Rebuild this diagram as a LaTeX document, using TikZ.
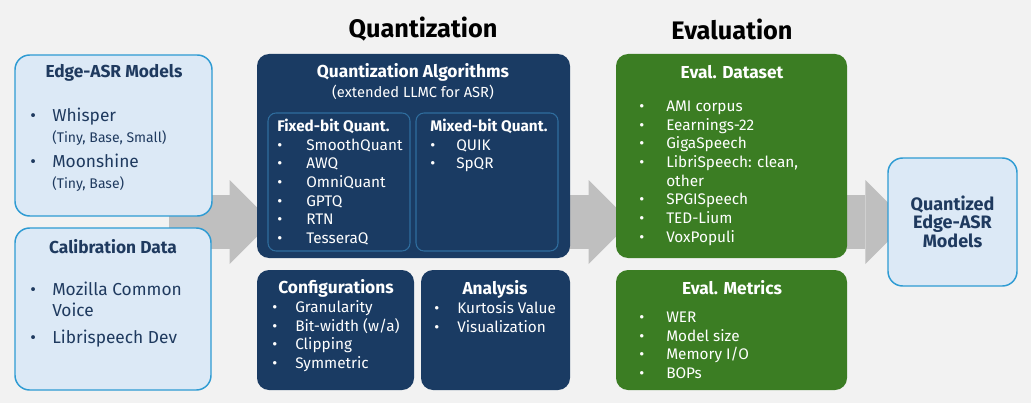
\documentclass[tikz,border=0pt]{standalone}
\usepackage{fontspec}
\setmainfont{Fira Sans}
\usetikzlibrary{arrows.meta,backgrounds,calc}
\definecolor{pagebg}{HTML}{F2F2F2}
\definecolor{navy}{HTML}{1A3B63}
\definecolor{subline}{HTML}{2F6D9E}
\definecolor{evalgreen}{HTML}{3B7D23}
\definecolor{lightfill}{HTML}{DCE9F6}
\definecolor{lightline}{HTML}{2E9BD3}
\definecolor{darktext}{HTML}{1F3A5F}
\definecolor{flowgray}{HTML}{BFBFBF}
\newcommand{\itembullet}[1][16.5pt]{\makebox[#1][l]{•}}
\newcommand{\liststack}[1]{\begin{tabular}[t]{@{}l@{}}#1\end{tabular}}

\begin{document}
\begin{tikzpicture}[x=0.75pt,y=-0.75pt,
  lightbox/.style={draw=lightline, line width=1.1pt, fill=lightfill, rounded corners=11pt},
  navybox/.style={fill=navy, rounded corners=9pt},
  subbox/.style={draw=subline, line width=0.8pt, rounded corners=6pt},
  greenbox/.style={fill=evalgreen, rounded corners=9pt},
  headline/.style={font=\bfseries\fontsize{19}{22}\selectfont},
  boxtitle/.style={font=\bfseries\fontsize{13}{15}\selectfont},
  itemlist/.style={anchor=base west, inner sep=0pt, font=\fontsize{11.5}{14}\selectfont},
  flow/.style={draw=flowgray, line width=40.5pt, -{Triangle[length=31.5pt, width=63pt, line width=0pt]}}]
\useasboundingbox (0,0) rectangle (1031,403);
\coordinate (axis) at (0,222);

\node[headline] (quanthead) at (423,29) {Quantization};
\node[headline] (evalhead) at (732,29) {Evaluation};

\node[lightbox, minimum width=147.75pt, minimum height=120.75pt] (edge) at (113.5,135.5) {};
\node[boxtitle, text=darktext] (edgetitle) at (114,73) {Edge-ASR Models};
\node[itemlist, text=darktext, font=\fontsize{13}{16}\selectfont] (edgelist) at (30,121) {\liststack{\itembullet Whisper\\
  \hspace*{16.5pt}{\fontsize{10.5}{16}\selectfont (Tiny, Base, Small)}\\[3pt]
  \itembullet Moonshine\\
  \hspace*{16.5pt}{\fontsize{10.5}{16}\selectfont (Tiny, Base)}}};

\node[lightbox, minimum width=147pt, minimum height=121.5pt] (calib) at (113,309) {};
\node[boxtitle, text=darktext] (calibtitle) at (113,247) {Calibration Data};
\node[itemlist, text=darktext, font=\fontsize{13}{16}\selectfont] (caliblist) at (30,295) {\liststack{\itembullet Mozilla Common\\
  \hspace*{16.5pt}Voice\\[4pt]
  \itembullet Librispeech Dev}};

\node[navybox, minimum width=234.75pt, minimum height=153pt] (qalg) at (413.5,156) {};
\node[boxtitle, text=white] (qalgtitle) at (413,72) {Quantization Algorithms};
\node[text=white, font=\fontsize{11}{13}\selectfont] (qalgsub) at (413,92) {(extended LLMC for ASR)};
\node[subbox, minimum width=106.5pt, minimum height=103.5pt] (fixed) at (339,182) {};
\node[subbox, minimum width=106.5pt, minimum height=103.5pt] (mixed) at (487,182) {};
\node[itemlist, text=white] (fixedlist) at (277,131.5) {\liststack{\textbf{Fixed-bit Quant.}\\
  \itembullet[21.75pt]SmoothQuant\\ \itembullet[21.75pt]AWQ\\ \itembullet[21.75pt]OmniQuant\\
  \itembullet[21.75pt]GPTQ\\ \itembullet[21.75pt]RTN\\ \itembullet[21.75pt]TesseraQ}};
\node[itemlist, text=white] (mixedlist) at (430,131.5) {\liststack{\textbf{Mixed-bit Quant.}\\
  \itembullet[19.5pt]QUIK\\ \itembullet[19.5pt]SpQR}};

\node[navybox, minimum width=117.75pt, minimum height=90pt] (config) at (335.5,330) {};
\node[boxtitle, text=white] (configtitle) at (336,288) {Configurations};
\node[itemlist, text=white] (configlist) at (272,312.5) {\liststack{\itembullet[17.25pt]Granularity\\
  \itembullet[17.25pt]Bit-width (w/a)\\ \itembullet[17.25pt]Clipping\\ \itembullet[17.25pt]Symmetric}};

\node[navybox, minimum width=111.75pt, minimum height=90pt] (analysis) at (495.5,330) {};
\node[boxtitle, text=white] (analysistitle) at (495,289) {Analysis};
\node[itemlist, text=white] (analysislist) at (434,313.5) {\liststack{\itembullet[17.25pt]Kurtosis Value\\
  \itembullet[17.25pt]Visualization}};

\node[greenbox, minimum width=173.25pt, minimum height=153pt] (dataset) at (731.5,156) {};
\node[boxtitle, text=white] (datasettitle) at (732,72) {Eval. Dataset};
\node[itemlist, text=white] (datasetlist) at (639,111.5) {\liststack{\itembullet[20.25pt]AMI corpus\\
  \itembullet[20.25pt]Eearnings-22\\ \itembullet[20.25pt]GigaSpeech\\
  \itembullet[20.25pt]LibriSpeech: clean,\\ \hspace*{20.25pt}other\\
  \itembullet[20.25pt]SPGISpeech\\ \itembullet[20.25pt]TED-Lium\\ \itembullet[20.25pt]VoxPopuli}};

\node[greenbox, minimum width=173.25pt, minimum height=90pt] (metrics) at (731.5,330) {};
\node[boxtitle, text=white] (metricstitle) at (732,288) {Eval. Metrics};
\node[itemlist, text=white] (metricslist) at (639,322.5) {\liststack{\itembullet[20.25pt]WER\\
  \itembullet[20.25pt]Model size\\ \itembullet[20.25pt]Memory I/O\\ \itembullet[20.25pt]BOPs}};

\node[lightbox, minimum width=96.75pt, minimum height=96pt, align=center, text=darktext,
  font=\bfseries\fontsize{13.5}{13.2}\selectfont] (output) at (952.5,222) {Quantized\\Edge-ASR\\Models};

\begin{scope}[on background layer]
\fill[pagebg] (0,0) rectangle (1031,403);
\draw[flow] ($(edge.east |- axis)+(-44,0)$) -- ($(qalg.west |- axis)+(15,0)$);
\draw[flow] ($(qalg.east |- axis)+(-20,0)$) -- ($(dataset.west |- axis)+(15,0)$);
\draw[flow] ($(dataset.east |- axis)+(-20,0)$) -- ($(output.west |- axis)+(20,0)$);
\end{scope}
\end{tikzpicture}
\end{document}
